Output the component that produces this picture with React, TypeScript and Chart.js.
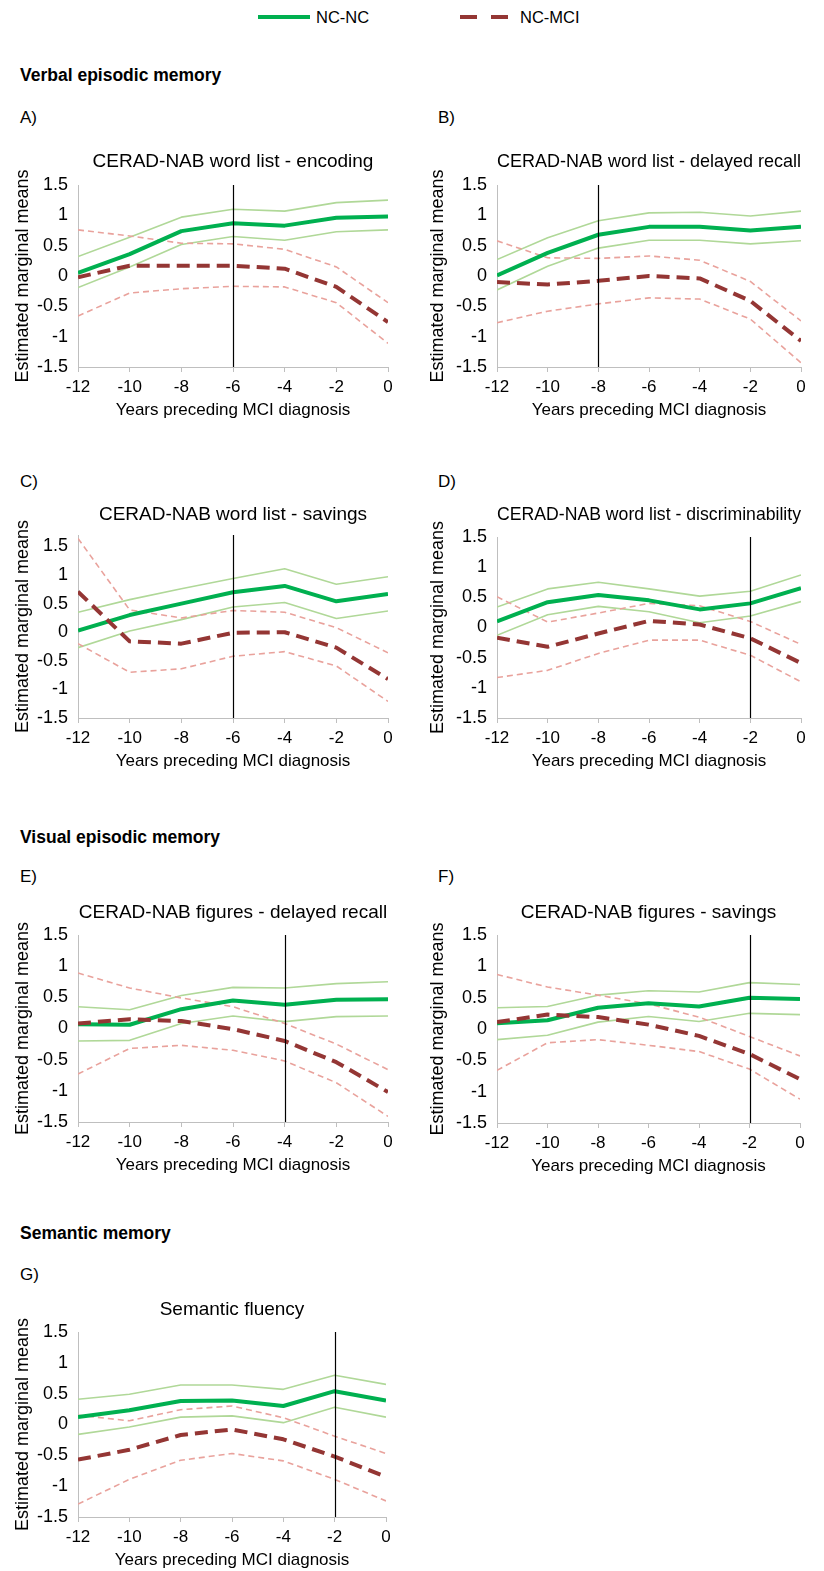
import React, { useEffect, useRef } from "react";
import { Chart, registerables } from "chart.js";
Chart.register(...registerables);

// ---------- data ----------
const years = [-12, -10, -8, -6, -4, -2, 0];
const yTickValues = [-1.5, -1, -0.5, 0, 0.5, 1, 1.5];
const seriesNames = ["NC-NC", "NC-MCI"];
const xTitle = "Years preceding MCI diagnosis";
const yTitle = "Estimated marginal means";

// A) word list - encoding
const aNcMean = [0.05, 0.36, 0.74, 0.87, 0.83, 0.96, 0.98];
const aNcHigh = [0.32, 0.64, 0.97, 1.1, 1.07, 1.21, 1.25];
const aNcLow = [-0.19, 0.15, 0.52, 0.65, 0.59, 0.73, 0.76];
const aMciMean = [-0.02, 0.17, 0.17, 0.17, 0.12, -0.18, -0.76];
const aMciHigh = [0.76, 0.66, 0.54, 0.53, 0.44, 0.15, -0.44];
const aMciLow = [-0.66, -0.28, -0.21, -0.17, -0.18, -0.44, -1.11];

// B) word list - delayed recall
const bNcMean = [0.01, 0.38, 0.68, 0.81, 0.81, 0.75, 0.81];
const bNcHigh = [0.27, 0.63, 0.91, 1.04, 1.05, 0.99, 1.07];
const bNcLow = [-0.23, 0.16, 0.46, 0.59, 0.59, 0.53, 0.58];
const bMciMean = [-0.1, -0.14, -0.08, 0.0, -0.04, -0.41, -1.07];
const bMciHigh = [0.58, 0.3, 0.29, 0.33, 0.26, -0.09, -0.74];
const bMciLow = [-0.77, -0.58, -0.46, -0.36, -0.38, -0.71, -1.43];

// C) word list - savings
const cNcMean = [0.03, 0.3, 0.5, 0.7, 0.81, 0.54, 0.67];
const cNcHigh = [0.35, 0.57, 0.76, 0.94, 1.11, 0.84, 0.97];
const cNcLow = [-0.27, 0.02, 0.22, 0.44, 0.52, 0.24, 0.37];
const cMciMean = [0.71, -0.16, -0.2, -0.01, 0.0, -0.27, -0.82];
const cMciHigh = [1.64, 0.39, 0.25, 0.38, 0.35, 0.08, -0.36];
const cMciLow = [-0.2, -0.7, -0.64, -0.42, -0.34, -0.59, -1.21];

// D) word list - discriminability
const dNcMean = [0.1, 0.42, 0.54, 0.45, 0.3, 0.4, 0.65];
const dNcHigh = [0.34, 0.64, 0.75, 0.64, 0.52, 0.6, 0.87];
const dNcLow = [-0.13, 0.21, 0.35, 0.26, 0.08, 0.19, 0.43];
const dMciMean = [-0.17, -0.32, -0.1, 0.11, 0.05, -0.18, -0.59];
const dMciHigh = [0.51, 0.09, 0.24, 0.4, 0.36, 0.1, -0.28];
const dMciLow = [-0.83, -0.71, -0.43, -0.21, -0.21, -0.46, -0.9];

// E) figures - delayed recall
const eNcMean = [0.07, 0.06, 0.31, 0.45, 0.38, 0.46, 0.47];
const eNcHigh = [0.35, 0.3, 0.53, 0.66, 0.65, 0.72, 0.75];
const eNcLow = [-0.2, -0.19, 0.08, 0.2, 0.11, 0.19, 0.2];
const eMciMean = [0.08, 0.15, 0.12, -0.01, -0.2, -0.54, -1.02];
const eMciHigh = [0.89, 0.65, 0.49, 0.35, 0.08, -0.25, -0.66];
const eMciLow = [-0.73, -0.32, -0.27, -0.35, -0.52, -0.87, -1.41];

// F) figures - savings
const fNcMean = [0.09, 0.14, 0.34, 0.41, 0.36, 0.5, 0.48];
const fNcHigh = [0.34, 0.36, 0.54, 0.61, 0.59, 0.74, 0.71];
const fNcLow = [-0.17, -0.1, 0.11, 0.2, 0.12, 0.25, 0.23];
const fMciMean = [0.11, 0.23, 0.19, 0.07, -0.11, -0.4, -0.8];
const fMciHigh = [0.87, 0.67, 0.54, 0.4, 0.19, -0.12, -0.43];
const fMciLow = [-0.66, -0.22, -0.17, -0.26, -0.36, -0.64, -1.12];

// G) semantic fluency
const gNcMean = [0.12, 0.23, 0.38, 0.39, 0.3, 0.54, 0.39];
const gNcHigh = [0.41, 0.49, 0.64, 0.64, 0.57, 0.8, 0.65];
const gNcLow = [-0.16, -0.04, 0.12, 0.14, 0.03, 0.28, 0.12];
const gMciMean = [-0.57, -0.41, -0.17, -0.08, -0.24, -0.52, -0.85];
const gMciHigh = [0.15, 0.06, 0.24, 0.3, 0.11, -0.19, -0.47];
const gMciLow = [-1.29, -0.89, -0.58, -0.47, -0.59, -0.89, -1.24];

const panels = [
  { key: "A", title: "CERAD-NAB word list - encoding", diag: -6, yMax: 1.5, nc: [aNcMean, aNcHigh, aNcLow], mci: [aMciMean, aMciHigh, aMciLow] },
  { key: "B", title: "CERAD-NAB word list - delayed recall", diag: -8, yMax: 1.5, nc: [bNcMean, bNcHigh, bNcLow], mci: [bMciMean, bMciHigh, bMciLow] },
  { key: "C", title: "CERAD-NAB word list - savings", diag: -6, yMax: 1.7, nc: [cNcMean, cNcHigh, cNcLow], mci: [cMciMean, cMciHigh, cMciLow] },
  { key: "D", title: "CERAD-NAB word list - discriminability", diag: -2, yMax: 1.5, nc: [dNcMean, dNcHigh, dNcLow], mci: [dMciMean, dMciHigh, dMciLow] },
  { key: "E", title: "CERAD-NAB figures - delayed recall", diag: -4, yMax: 1.5, nc: [eNcMean, eNcHigh, eNcLow], mci: [eMciMean, eMciHigh, eMciLow] },
  { key: "F", title: "CERAD-NAB figures - savings", diag: -2, yMax: 1.5, nc: [fNcMean, fNcHigh, fNcLow], mci: [fMciMean, fMciHigh, fMciLow] },
  { key: "G", title: "Semantic fluency", diag: -2, yMax: 1.5, nc: [gNcMean, gNcHigh, gNcLow], mci: [gMciMean, gMciHigh, gMciLow] },
];

// ---------- layout / style ----------
const FONT = "'Liberation Sans', Arial, Helvetica, sans-serif";
const layouts: Record<string, any> = {
  A: { x: 0, w: 410, plotLeft: 78, plotRight: 388, titleY: 162, plotTop: 185, plotBottom: 367 },
  B: { x: 415, w: 409, plotLeft: 497, plotRight: 801, titleY: 162, plotTop: 185, plotBottom: 367 },
  C: { x: 0, w: 410, plotLeft: 78, plotRight: 388, titleY: 515, plotTop: 535, plotBottom: 718 },
  D: { x: 415, w: 409, plotLeft: 497, plotRight: 801, titleY: 515, plotTop: 537, plotBottom: 718 },
  E: { x: 0, w: 410, plotLeft: 78, plotRight: 388, titleY: 913, plotTop: 935, plotBottom: 1122 },
  F: { x: 415, w: 409, plotLeft: 497, plotRight: 800, titleY: 913, plotTop: 935, plotBottom: 1123 },
  G: { x: 0, w: 410, plotLeft: 78, plotRight: 386, titleY: 1310, plotTop: 1332, plotBottom: 1517 },
};
const TITLE_SIZE = 19;
const X_TICK_SIZE = 17;
const Y_TICK_SIZE = 18;
const X_TITLE_SIZE = 17;
const Y_TITLE_SIZE = 18;
const X_SCALE_H = 54;

const GREEN = "#00b050";
const GREEN_CI = "#b0d898";
const RED = "#943634";
const RED_CI = "#e9a29c";
const AXIS = "#bfbfbf";

function Panel({ cfg }: { cfg: any }) {
  const ref = useRef<HTMLCanvasElement>(null);
  const L = layouts[cfg.key];
  const lh = TITLE_SIZE * 1.2;
  const top = L.titleY - 16;
  const height = L.plotBottom + X_SCALE_H - top;

  useEffect(() => {
    if (!ref.current) return;
    const mk = (label: string, values: number[], color: string, width: number, dash: number[]) => ({
      label,
      data: years.map((yr, i) => ({ x: yr, y: values[i] })),
      borderColor: color,
      backgroundColor: color,
      borderWidth: width,
      borderDash: dash,
      pointRadius: 0,
      tension: 0,
      fill: false,
      borderJoinStyle: "round" as const,
    });
    const diagLine = {
      id: "diagLine",
      afterDatasetsDraw(chart: any) {
        const { ctx, chartArea, scales } = chart;
        const px = Math.round(scales.x.getPixelForValue(cfg.diag)) + 0.5;
        ctx.save();
        ctx.strokeStyle = "#000";
        ctx.lineWidth = 1.2;
        ctx.beginPath();
        ctx.moveTo(px, chartArea.top);
        ctx.lineTo(px, chartArea.bottom);
        ctx.stroke();
        ctx.restore();
      },
    };
    const chart = new Chart(ref.current, {
      type: "line",
      data: {
        datasets: [
          mk(seriesNames[1], cfg.mci[0], RED, 4, [13, 7]),
          mk(seriesNames[0], cfg.nc[0], GREEN, 4, []),
          mk(seriesNames[1] + " upper", cfg.mci[1], RED_CI, 1.6, [6, 4]),
          mk(seriesNames[1] + " lower", cfg.mci[2], RED_CI, 1.6, [6, 4]),
          mk(seriesNames[0] + " upper", cfg.nc[1], GREEN_CI, 1.6, []),
          mk(seriesNames[0] + " lower", cfg.nc[2], GREEN_CI, 1.6, []),
        ],
      },
      options: {
        animation: false,
        responsive: false,
        devicePixelRatio: 1,
        events: [],
        layout: { padding: { left: 0, top: 0, bottom: 0, right: L.x + L.w - L.plotRight } },
        plugins: {
          legend: { display: false },
          tooltip: { enabled: false },
          title: {
            display: true,
            text: cfg.title,
            fullSize: false,
            color: "#000",
            font: { family: FONT, size: TITLE_SIZE, weight: "normal" as any },
            padding: { top: L.titleY - top - lh / 2, bottom: L.plotTop - L.titleY - lh / 2 },
          },
        },
        scales: {
          x: {
            type: "linear",
            min: years[0],
            max: years[years.length - 1],
            afterBuildTicks: (s: any) => {
              s.ticks = years.map((v) => ({ value: v }));
            },
            afterFit: (s: any) => {
              s.height = X_SCALE_H;
            },
            ticks: {
              autoSkip: false,
              maxRotation: 0,
              padding: 5,
              color: "#000",
              font: { family: FONT, size: X_TICK_SIZE },
              callback: (v: any) => String(v),
            },
            grid: { display: true, drawOnChartArea: false, drawTicks: true, tickLength: 5, color: AXIS, lineWidth: 1 },
            border: { display: true, color: AXIS, width: 1 },
            title: {
              display: true,
              text: xTitle,
              color: "#000",
              font: { family: FONT, size: X_TITLE_SIZE },
              padding: { top: 0, bottom: 0 },
            },
          },
          y: {
            type: "linear",
            min: -1.5,
            max: cfg.yMax,
            afterBuildTicks: (s: any) => {
              s.ticks = yTickValues.map((v) => ({ value: v }));
            },
            afterFit: (s: any) => {
              s.width = L.plotLeft - L.x;
            },
            ticks: {
              padding: 10,
              color: "#000",
              font: { family: FONT, size: Y_TICK_SIZE },
              callback: (v: any) => String(v),
            },
            grid: { display: false, drawTicks: false },
            border: { display: true, color: AXIS, width: 1 },
            title: {
              display: true,
              text: yTitle,
              color: "#000",
              font: { family: FONT, size: Y_TITLE_SIZE },
              padding: { top: 12, bottom: 0 },
            },
          },
        },
      },
      plugins: [diagLine],
    } as any);
    return () => chart.destroy();
  }, [cfg]);

  return (
    <canvas
      ref={ref}
      width={L.w}
      height={height}
      style={{ position: "absolute", left: L.x, top, width: L.w, height, display: "block" }}
    />
  );
}

const headers = [
  { text: "Verbal episodic memory", y: 75 },
  { text: "Visual episodic memory", y: 837 },
  { text: "Semantic memory", y: 1233 },
];
const panelLabels = [
  { text: "A)", x: 20, y: 118 },
  { text: "B)", x: 438, y: 118 },
  { text: "C)", x: 20, y: 482 },
  { text: "D)", x: 438, y: 482 },
  { text: "E)", x: 20, y: 877 },
  { text: "F)", x: 438, y: 877 },
  { text: "G)", x: 20, y: 1275 },
];

export default function App() {
  return (
    <div
      style={{
        position: "absolute",
        left: 0,
        top: 0,
        width: 824,
        height: 1571,
        background: "#fff",
        overflow: "hidden",
        fontFamily: FONT,
        color: "#000",
      }}
    >
      <svg width={824} height={34} style={{ position: "absolute", left: 0, top: 0 }}>
        <line x1={258} y1={17} x2={310} y2={17} stroke={GREEN} strokeWidth={4} />
        <text x={316} y={17} dominantBaseline="central" fontFamily={FONT} fontSize={16.5} fill="#000">
          {seriesNames[0]}
        </text>
        <line x1={460} y1={17} x2={508} y2={17} stroke={RED} strokeWidth={4} strokeDasharray="17 14" />
        <text x={520} y={17} dominantBaseline="central" fontFamily={FONT} fontSize={16.5} fill="#000">
          {seriesNames[1]}
        </text>
      </svg>
      {headers.map((h) => (
        <div
          key={h.text}
          style={{ position: "absolute", left: 20, top: h.y - 10, lineHeight: "20px", fontSize: 17.5, fontWeight: "bold" }}
        >
          {h.text}
        </div>
      ))}
      {panelLabels.map((p) => (
        <div key={p.text} style={{ position: "absolute", left: p.x, top: p.y - 10, lineHeight: "20px", fontSize: 17 }}>
          {p.text}
        </div>
      ))}
      {panels.map((p) => (
        <Panel key={p.key} cfg={p} />
      ))}
    </div>
  );
}
